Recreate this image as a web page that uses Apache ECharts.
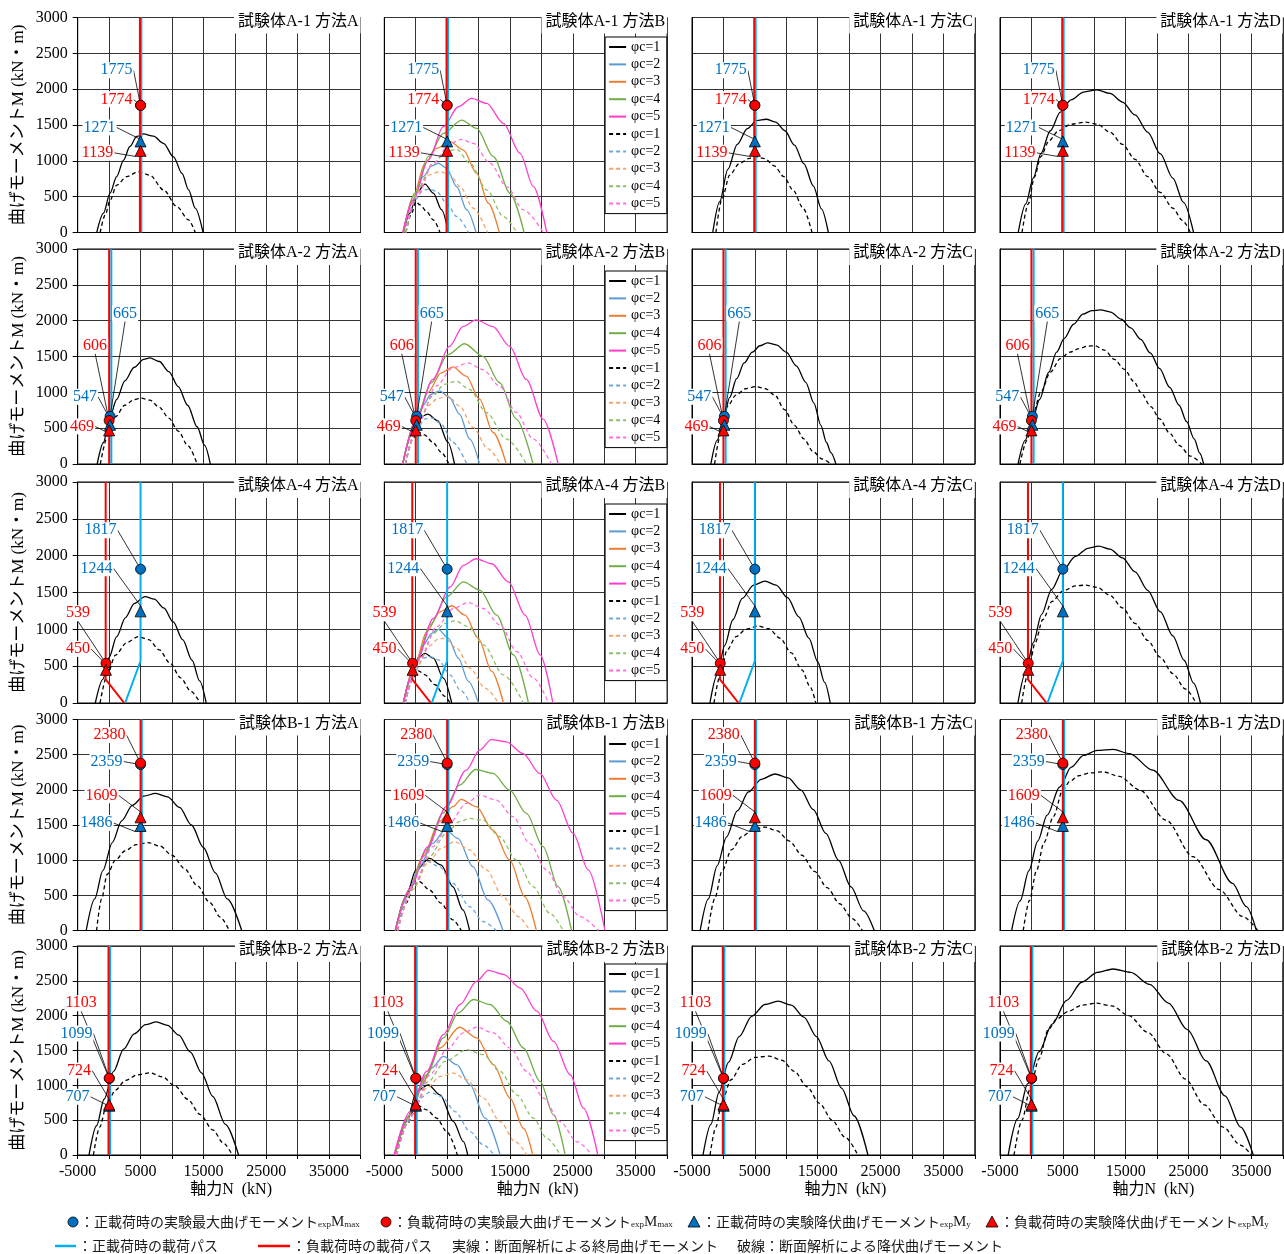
<!DOCTYPE html>
<html>
<head>
<meta charset="utf-8">
<style>
  html, body { margin: 0; background: #fff; }
  #chart { width: 1284px; height: 1254px; }
</style>
</head>
<body>
<div id="chart"></div>
<script src="https://cdn.jsdelivr.net/npm/echarts/dist/echarts.min.js"></script>
<script>
// ---- categories / ticks ----
const specimens = ['A-1', 'A-2', 'A-4', 'B-1', 'B-2'];
const methods = ['A', 'B', 'C', 'D'];
const phiNames = ['φc=1', 'φc=2', 'φc=3', 'φc=4', 'φc=5'];
const xLabels = [-5000, 5000, 15000, 25000, 35000];

// ---- experimental points (per specimen) ----
const expMaxPos = [1775, 665, 1817, 2359, 1099];   // blue circle
const expMaxNeg = [1774, 606, 539, 2380, 1103];    // red circle
const expYldPos = [1271, 547, 1244, 1486, 707];    // blue triangle
const expYldNeg = [1139, 469, 450, 1609, 724];     // red triangle
const expNPos = [5000, 150, 5000, 5000, 50];
const expNNeg = [5000, 0, -500, 5000, 0];

// ---- loading paths ----
const pathPos = [
  [[5130, 0], [5130, 3000]],
  [[350, 0], [350, 3000]],
  [[2550, 0], [5000, 570], [5000, 3000]],
  [[5200, 0], [5200, 3000]],
  [[150, 0], [150, 3000]]
];
const pathNeg = [
  [[4900, 0], [4900, 3000]],
  [[0, 0], [0, 3000]],
  [[2400, 0], [-550, 320], [-550, 3000]],
  [[5000, 0], [5000, 3000]],
  [[-100, 0], [-100, 3000]]
];

// ---- method A ----
const A1_ultA = [[-1970,0],[-900,270],[150,550],[1200,780],[2300,1010],[3300,1200],[4400,1340],[5450,1375],[7050,1345],[8650,1245],[10250,1055],[11600,825],[12650,595],[13700,340],[14950,0]];
const A1_yldA = [[-1430,0],[-600,250],[150,450],[1200,660],[2800,780],[4650,850],[6500,800],[8650,595],[10800,360],[12650,175],[13700,0]];
const A2_ultA = [[-1900,0],[-900,300],[0,620],[1200,900],[2500,1160],[4000,1350],[5500,1460],[6500,1480],[8000,1430],[9500,1290],[11000,1080],[12500,820],[14000,520],[15200,260],[16100,0]];
const A2_yldA = [[-1400,0],[-200,400],[1000,660],[2500,820],[4000,900],[5000,920],[6500,890],[8000,790],[9500,640],[11000,460],[12500,260],[14000,0]];
const A4_ultA = [[-2200,0],[-1000,320],[0,620],[1200,900],[2600,1160],[4000,1350],[5700,1445],[7200,1410],[8700,1290],[10200,1100],[11700,860],[13200,580],[14400,300],[15450,0]];
const A4_yldA = [[-1450,0],[-300,380],[1000,650],[2800,820],[4650,900],[6300,860],[8000,720],[9700,540],[11400,340],[13000,160],[14500,0]];
const B1_ultA = [[-3650,0],[-2300,450],[-1000,850],[500,1250],[2000,1560],[3700,1780],[5500,1910],[7400,1950],[9300,1900],[11200,1750],[13100,1500],[15000,1180],[16900,820],[18800,450],[21100,0]];
const B1_yldA = [[-2000,0],[-1200,450],[-300,800],[1000,1000],[2500,1130],[4300,1220],[6200,1250],[8100,1200],[10000,1070],[12000,880],[14000,640],[16000,400],[17700,190],[19100,0]];
const B2_ultA = [[-3200,0],[-2000,420],[-800,800],[700,1200],[2300,1520],[4000,1740],[5800,1870],[7500,1910],[9300,1860],[11100,1720],[12900,1480],[14700,1180],[16500,840],[18500,440],[20600,0]];
const B2_yldA = [[-2500,0],[-1500,400],[-400,720],[1000,930],[2600,1070],[4500,1150],[6500,1180],[8500,1120],[10500,990],[12500,800],[14500,580],[16500,360],[18200,170],[19600,0]];

// ---- method C ----
const A1_ultC = [[-1700,0],[-600,430],[700,880],[2200,1230],[3800,1450],[5300,1560],[6800,1580],[8300,1540],[9800,1420],[11300,1220],[12800,960],[14300,650],[15600,330],[16700,0]];
const A1_yldC = [[-1200,0],[-200,480],[1000,800],[2500,960],[4000,1030],[5200,1055],[6600,1030],[8100,930],[9600,780],[11100,590],[12600,350],[14100,0]];
const A2_ultC = [[-2000,0],[-1000,330],[0,630],[1000,930],[2100,1190],[3300,1410],[4600,1560],[5800,1650],[7000,1690],[8500,1660],[10000,1560],[11600,1370],[13100,1140],[14400,850],[15500,540],[16400,300],[17100,160],[17900,0]];
const A2_yldC = [[-1400,0],[-500,400],[600,800],[2000,960],[3500,1050],[5200,1080],[6700,1050],[8200,960],[9700,760],[11300,540],[12800,350],[14300,170],[15700,70],[17100,0]];
const A4_ultC = [[-2150,0],[-1000,380],[200,780],[1500,1130],[3000,1420],[4800,1600],[6600,1655],[8400,1600],[10200,1430],[12000,1170],[13600,880],[15000,560],[16100,280],[17000,0]];
const A4_yldC = [[-1500,0],[-500,380],[600,720],[2000,900],[3600,1000],[5500,1045],[7200,1010],[9000,880],[10800,680],[12500,450],[13800,220],[14700,0]];
const B1_ultC = [[-3700,0],[-2400,450],[-1000,920],[500,1330],[2200,1700],[4000,1970],[6000,2150],[8200,2225],[10300,2170],[12300,2000],[14300,1720],[16300,1380],[18300,1000],[20300,620],[22300,280],[24000,0]];
const B1_yldC = [[-2450,0],[-1400,450],[-200,850],[1300,1150],[3000,1340],[4800,1440],[6600,1470],[8500,1420],[10500,1270],[12500,1070],[14500,840],[16500,610],[18500,380],[20500,170],[22100,0]];
const B2_ultC = [[-3250,0],[-2000,440],[-700,900],[800,1330],[2500,1700],[4500,1990],[6600,2160],[8700,2210],[10800,2150],[12800,1980],[14800,1700],[16800,1350],[18800,960],[20800,560],[23000,0]];
const B2_yldC = [[-2130,0],[-1200,400],[-200,780],[1200,1080],[3000,1300],[5000,1400],[7300,1420],[9300,1360],[11300,1200],[13300,980],[15300,740],[17300,500],[19300,260],[21400,0]];

// ---- method D ----
const A1_ultD = [[-2100,0],[-900,400],[300,760],[1500,1100],[3000,1420],[4600,1680],[6300,1850],[8300,1960],[10400,1990],[12500,1940],[14500,1820],[16500,1640],[18500,1400],[20500,1100],[22500,760],[24200,420],[25800,0]];
const A1_yldD = [[-1500,0],[-500,400],[500,780],[1500,1060],[2800,1280],[4300,1420],[6300,1510],[8600,1540],[10500,1510],[12500,1400],[14500,1230],[16500,1020],[18500,780],[20500,560],[22500,340],[24000,170],[25300,0]];
const A2_ultD = [[-2130,0],[-1000,330],[0,560],[1300,900],[2750,1280],[4000,1560],[5200,1750],[6700,1950],[8200,2090],[9600,2140],[11000,2150],[12600,2120],[14300,2020],[15800,1900],[17400,1740],[18900,1550],[20400,1330],[22000,1070],[23500,820],[24700,590],[25900,350],[26800,150],[27400,0]];
const A2_yldD = [[-1830,0],[-700,330],[300,720],[1500,1000],[3000,1280],[4600,1470],[6100,1560],[7600,1610],[9000,1645],[10100,1650],[11600,1590],[13200,1460],[14800,1320],[16300,1150],[17400,1000],[19000,800],[20400,630],[22000,430],[23500,260],[25300,110],[27100,0]];
const A4_ultD = [[-2150,0],[-900,420],[300,820],[1600,1200],[3200,1540],[5000,1800],[7000,1990],[9000,2100],[10700,2130],[12500,2090],[14500,1970],[16500,1780],[18500,1530],[20500,1240],[22500,910],[24300,580],[25800,270],[26900,0]];
const A4_yldD = [[-1550,0],[-500,420],[600,820],[1800,1130],[3300,1380],[5000,1520],[7000,1590],[8600,1600],[10500,1570],[12500,1460],[14500,1290],[16500,1080],[18500,850],[20500,620],[22500,400],[24500,190],[26200,0]];
const B1_ultD = [[-3150,0],[-1800,420],[-400,850],[1000,1270],[2500,1640],[4500,2040],[6300,2320],[8300,2490],[10500,2560],[13000,2575],[15600,2515],[19300,2280],[23500,1850],[27800,1290],[32000,670],[34200,340],[35800,0]];
const B1_yldD = [[-1300,0],[-300,430],[800,850],[2000,1250],[3500,1620],[5000,2000],[6100,2120],[7500,2200],[9300,2240],[11400,2256],[14000,2190],[17200,2000],[21400,1570],[25700,1050],[29900,580],[33600,200],[36000,0]];
const B2_ultD = [[-3700,0],[-2200,520],[-600,1020],[1200,1480],[3300,1880],[5600,2220],[8000,2480],[10500,2620],[13000,2670],[15800,2620],[18800,2450],[21800,2180],[24800,1800],[27800,1350],[30800,850],[33300,400],[35300,0]];
const B2_yldD = [[-2770,0],[-1500,500],[-200,950],[1200,1380],[2700,1800],[4000,1950],[5800,2060],[8000,2150],[10300,2180],[12800,2140],[15500,2000],[18500,1760],[21500,1450],[24500,1090],[27500,720],[30500,400],[33300,140],[35000,0]];

// ---- method B (φc = 1..5) ----
const A1_ultB = [
  [[-1970,0],[-910,270],[150,555],[1480,675],[2800,550],[4130,315],[5190,0]],
  [[-1970,0],[-380,455],[1210,780],[2540,930],[3600,966],[4930,896],[6520,640],[8110,315],[9600,0]],
  [[-1970,0],[-380,500],[1480,966],[3330,1175],[5460,1268],[7580,1150],[9700,826],[11560,410],[13310,0]],
  [[-1970,0],[-110,550],[2000,1060],[4400,1384],[7310,1569],[9700,1453],[12360,1059],[15010,548],[17240,0]],
  [[-2080,0],[-380,455],[2000,1012],[4400,1476],[6780,1755],[8900,1871],[11300,1801],[13950,1523],[16600,1105],[18730,641],[20850,0]]
];
const A1_yldB = [
  [[-1550,0],[-650,270],[40,432],[680,385],[1740,292],[2800,176],[3860,0]],
  [[-1700,0],[-110,455],[1210,594],[2270,604],[3330,571],[4930,409],[6520,223],[8380,0]],
  [[-1550,0],[150,548],[1740,794],[3860,850],[5460,803],[7050,641],[9170,339],[11400,0]],
  [[-1550,0],[590,641],[2710,966],[4930,1128],[6520,1161],[8640,966],[11300,594],[13950,223],[16070,0]],
  [[-1700,0],[150,501],[2800,966],[5460,1244],[7310,1300],[9170,1244],[11830,966],[14480,641],[17130,316],[20320,0]]
];
const A2_ultB = [
  [[-2070,0],[-740,396],[590,650],[1920,696],[3510,604],[5110,304],[6170,0]],
  [[-2070,0],[-480,470],[1120,811],[2450,973],[3780,1019],[5370,927],[6970,696],[8570,350],[10160,0]],
  [[-2070,0],[-210,512],[1920,996],[4040,1272],[5900,1355],[8030,1226],[10160,904],[12290,443],[14420,0]],
  [[-2070,0],[50,627],[2450,1134],[5110,1526],[7770,1678],[10690,1503],[13350,1134],[16010,627],[18670,0]],
  [[-2070,0],[50,604],[2710,1180],[5370,1641],[7500,1918],[9630,2010],[12290,1918],[14950,1641],[17610,1180],[20270,627],[22660,0]]
];
const A2_yldB = [
  [[-1650,0],[-480,350],[320,452],[1380,406],[2710,304],[4040,166],[5270,0]],
  [[-1650,0],[54,443],[1380,627],[2710,641],[4040,558],[5900,304],[8140,0]],
  [[-1650,0],[320,535],[1920,811],[3510,913],[5110,950],[6970,811],[9100,512],[11490,212],[13460,0]],
  [[-1650,0],[590,627],[2710,950],[4580,1111],[6440,1157],[8570,1042],[11230,719],[14420,350],[17610,0]],
  [[-1650,0],[590,604],[3250,1088],[5900,1341],[8300,1410],[10690,1318],[13350,1088],[16010,719],[18670,350],[21600,0]]
];
const A4_ultB = [
  [[-1970,0],[-650,383],[420,617],[1480,675],[2810,608],[4400,338],[5730,0]],
  [[-1970,0],[-380,428],[1210,788],[2540,945],[3600,1000],[5200,878],[6790,608],[8380,293],[9970,0]],
  [[-1970,0],[-110,518],[1740,968],[3870,1238],[5730,1320],[7850,1193],[9970,878],[12100,428],[13960,0]],
  [[-1970,0],[150,563],[2270,1058],[4930,1440],[7580,1643],[10240,1530],[12890,1193],[15550,653],[17940,0]],
  [[-1970,0],[150,563],[2800,1148],[5460,1575],[7580,1868],[9600,1958],[12100,1890],[14750,1643],[17410,1193],[19800,653],[21820,0]]
];
const A4_yldB = [
  [[-1700,0],[-380,338],[420,437],[1480,383],[3070,248],[4660,90],[5460,0]],
  [[-1700,0],[-110,428],[1210,608],[2270,630],[3600,585],[5460,383],[7050,180],[8650,0]],
  [[-1700,0],[420,518],[2010,765],[3600,869],[4660,878],[6520,743],[8650,473],[11040,203],[13160,0]],
  [[-1700,0],[680,585],[2800,945],[4660,1080],[6260,1116],[8380,1035],[10770,788],[13960,383],[17140,0]],
  [[-1700,0],[680,585],[3340,1035],[6000,1283],[8380,1364],[10770,1283],[13430,1058],[16080,698],[18740,338],[21130,0]]
];
const B1_ultB = [
  [[-3240,0],[-1540,482],[54,861],[2180,1026],[4040,932],[5900,624],[7500,293],[8570,0]],
  [[-3240,0],[-1540,459],[590,908],[2710,1239],[4740,1438],[6700,1310],[9100,908],[11490,435],[13890,0]],
  [[-3240,0],[-1280,530],[1120,1050],[3780,1547],[5900,1760],[7240,1864],[9630,1760],[12290,1428],[14950,1003],[17340,482],[19200,0]],
  [[-3240,0],[-1010,577],[1650,1145],[4310,1665],[6970,2067],[9520,2289],[12290,2233],[14950,1996],[17610,1665],[20270,1192],[22660,624],[24790,0]],
  [[-3240,0],[-750,624],[1920,1192],[4840,1760],[8030,2280],[10160,2564],[12020,2715],[14420,2682],[17080,2516],[19740,2233],[22400,1854],[25060,1381],[27450,861],[30110,0]]
];
const B1_yldB = [
  [[-2870,0],[-1540,388],[-210,672],[590,695],[2180,577],[4040,388],[5900,151],[7240,0]],
  [[-2870,0],[-1280,482],[320,861],[1920,979],[3780,908],[5900,672],[8570,340],[10690,128],[12820,0]],
  [[-2870,0],[-480,577],[1920,955],[4040,1168],[6170,1263],[8570,1145],[11230,861],[13890,482],[16280,199],[18140,0]],
  [[-2870,0],[-480,600],[2180,1050],[4840,1381],[6970,1547],[8570,1594],[10690,1570],[13350,1334],[16010,1003],[18670,624],[21330,246],[23460,0]],
  [[-2870,0],[-210,672],[2710,1192],[5370,1523],[8030,1807],[10160,1925],[12820,1854],[15480,1618],[18140,1239],[20800,861],[23460,482],[26120,199],[29050,0]]
];
const B2_ultB = [
  [[-3300,0],[-1440,480],[150,912],[2010,1008],[3870,864],[6000,480],[7590,192],[8280,0]],
  [[-3300,0],[-1440,528],[680,960],[2540,1248],[4400,1416],[6520,1296],[8650,1008],[11040,528],[13430,0]],
  [[-3300,0],[-1170,552],[1210,1056],[3870,1536],[6950,1834],[9710,1680],[12360,1296],[15020,816],[17140,384],[18630,0]],
  [[-3300,0],[-910,576],[1740,1152],[4400,1680],[6790,2040],[9180,2232],[11830,2160],[14490,1920],[17140,1536],[19800,1056],[21920,576],[23780,0]],
  [[-3460,0],[-910,624],[1740,1200],[4400,1728],[7050,2160],[9710,2496],[11570,2650],[13960,2592],[16610,2400],[19270,2064],[21920,1632],[24580,1152],[26700,672],[28980,0]]
];
const B2_yldB = [
  [[-3030,0],[-1440,432],[150,720],[1740,648],[3340,528],[4930,336],[6630,0]],
  [[-3030,0],[-1170,480],[680,816],[2270,902],[4130,840],[6260,624],[8650,336],[10770,144],[12470,0]],
  [[-3030,0],[-650,576],[1740,960],[3870,1128],[6000,1176],[8120,1080],[10770,816],[13430,480],[15820,192],[17670,0]],
  [[-3030,0],[-650,576],[2010,1056],[4660,1344],[8120,1512],[10770,1440],[13430,1200],[16080,864],[18740,528],[20860,240],[22980,0]],
  [[-3140,0],[-650,576],[2270,1152],[4930,1512],[7580,1752],[9710,1834],[12360,1752],[15020,1536],[17670,1200],[20330,816],[22980,480],[25640,192],[28030,0]]
];

const ultimate = [
  {A: A1_ultA, B: A1_ultB, C: A1_ultC, D: A1_ultD},
  {A: A2_ultA, B: A2_ultB, C: A2_ultC, D: A2_ultD},
  {A: A4_ultA, B: A4_ultB, C: A4_ultC, D: A4_ultD},
  {A: B1_ultA, B: B1_ultB, C: B1_ultC, D: B1_ultD},
  {A: B2_ultA, B: B2_ultB, C: B2_ultC, D: B2_ultD}
];
const yielding = [
  {A: A1_yldA, B: A1_yldB, C: A1_yldC, D: A1_yldD},
  {A: A2_yldA, B: A2_yldB, C: A2_yldC, D: A2_yldD},
  {A: A4_yldA, B: A4_yldB, C: A4_yldC, D: A4_yldD},
  {A: B1_yldA, B: B1_yldB, C: B1_yldC, D: B1_yldD},
  {A: B2_yldA, B: B2_yldB, C: B2_yldC, D: B2_yldD}
];

// ---- layout & style ----
const colLeft = [77.7, 384.3, 692, 1000];
const colW = 282.8;
const rowTop = [17.5, 249, 482, 719.5, 946];
const rowH = [215, 215, 221, 211, 209];
const legendTop = [37, 271, 504, 734, 964];
// label offsets [dx, dy] : blue circle, red circle, blue triangle, red triangle
const labelShift = [
  [[-24, -35], [-24, -6], [-41, -14], [-43, 2]],
  [[15, -103], [-14, -75], [-25, -28], [-27, -4]],
  [[-40, -39], [-28, -50], [-44, -43], [-28, -21]],
  [[-34, -3], [-31, -28], [-44, -3], [-39, -22]],
  [[-33, -45], [-28, -75], [-32, -9], [-30, -34]]
];
const solidColors = ['#000000', '#5B9BD5', '#ED7D31', '#70AD47', '#FF3CCF'];
const dashColors = ['#000000', '#6FA8DC', '#F4A46A', '#8CC063', '#FF70DD'];
const BLUE = '#0070C0', RED = '#FF0000', PATH_BLUE = '#00B0F0';
const FONT_SERIF = "'Liberation Serif', 'Noto Sans CJK JP', serif";
const FONT_JP = "'Noto Sans CJK JP', sans-serif";
const GRID_COLOR = '#333';

const grids = [], xAxes = [], yAxes = [], titles = [], legends = [], series = [];

function curve(name, data, g, color, dashed) {
  return {
    type: 'line', name: name, xAxisIndex: g, yAxisIndex: g, data: data,
    symbol: 'none', smooth: 0.3, smoothMonotone: 'x', silent: true, z: 2,
    lineStyle: {color: color, width: 1.3, type: dashed ? [4, 3] : 'solid'},
    itemStyle: {color: color}
  };
}

function marker(g, N, M, symbol, fill, txtColor, shift) {
  return {
    type: 'scatter', xAxisIndex: g, yAxisIndex: g, data: [[N, M]],
    symbol: symbol, symbolSize: symbol === 'circle' ? 10 : 11, z: 6, silent: true,
    itemStyle: {color: fill, borderColor: '#000', borderWidth: 0.8, opacity: 1},
    label: {
      show: true, position: 'inside', formatter: p => String(p.value[1]),
      color: txtColor, fontSize: 16, fontFamily: FONT_SERIF,
      backgroundColor: '#fff', padding: [0, 1]
    },
    labelLayout: {dx: shift[0], dy: shift[1]},
    labelLine: {show: true, lineStyle: {color: '#000', width: 0.8}}
  };
}

specimens.forEach((sp, r) => {
  methods.forEach((m, c) => {
    const g = r * 4 + c;
    grids.push({
      left: colLeft[c], top: rowTop[r], width: colW, height: rowH[r],
      show: true, borderColor: '#000', borderWidth: 1, backgroundColor: 'transparent',
      outerBoundsMode: 'none', containLabel: false
    });
    xAxes.push({
      gridIndex: g, type: 'value', min: -5000, max: 40000, interval: 5000,
      axisLine: {show: true, onZero: false, lineStyle: {color: '#000', width: 1}},
      axisTick: {show: r === 4, length: 4, lineStyle: {color: '#000'}},
      axisLabel: {
        show: r === 4, margin: 9, fontSize: 16, fontFamily: FONT_SERIF, color: '#000',
        formatter: v => (xLabels.indexOf(v) >= 0 ? String(v) : '')
      },
      splitLine: {show: true, lineStyle: {color: GRID_COLOR, width: 1}},
      name: r === 4 ? '軸力N  (kN)' : '', nameLocation: 'middle', nameGap: 27,
      nameTextStyle: {fontSize: 16, fontFamily: FONT_SERIF, color: '#000', padding: [0, 0, 0, 24]}
    });
    yAxes.push({
      gridIndex: g, type: 'value', min: 0, max: 3000, interval: 500,
      axisLine: {show: true, onZero: false, lineStyle: {color: '#000', width: 1}},
      axisTick: {show: c === 0, length: 5, lineStyle: {color: '#000'}},
      axisLabel: {show: c === 0, margin: 10, fontSize: 16, fontFamily: FONT_SERIF, color: '#000',
        formatter: v => String(v)},
      splitLine: {show: true, lineStyle: {color: GRID_COLOR, width: 1}},
      name: c === 0 ? '曲げモーメントM (kN・m)' : '', nameLocation: 'middle', nameRotate: 90, nameGap: 51,
      nameTextStyle: {fontSize: 17, fontFamily: FONT_SERIF, color: '#000'}
    });
    titles.push({
      text: '試験体' + sp + ' 方法' + m,
      right: 1284 - (colLeft[c] + colW), top: rowTop[r] - 7,
      backgroundColor: '#fff', padding: [3, 2, 4, 4],
      textStyle: {fontSize: 16, fontWeight: 'normal', fontFamily: FONT_SERIF, color: '#000'}
    });

    // analysis curves
    if (m === 'B') {
      ultimate[r].B.forEach((d, k) => series.push(curve(phiNames[k], d, g, solidColors[k], false)));
      yielding[r].B.forEach((d, k) => series.push(curve(phiNames[k] + ' ', d, g, dashColors[k], true)));
      legends.push({
        orient: 'vertical', left: colLeft[c] + colW - 62, top: legendTop[r],
        data: phiNames.concat(phiNames.map(n => n + ' ')),
        backgroundColor: '#fff', borderColor: '#000', borderWidth: 1,
        padding: [3, 3, 3, 3], itemWidth: 17, itemHeight: 12, itemGap: 3.4,
        selectedMode: false,
        itemStyle: {color: 'transparent', borderColor: 'transparent', borderWidth: 0},
        textStyle: {fontSize: 14, fontFamily: FONT_SERIF, color: '#000'}
      });
    } else {
      series.push(curve(sp + m + '終局', ultimate[r][m], g, '#000', false));
      series.push(curve(sp + m + '降伏', yielding[r][m], g, '#000', true));
    }

    // loading paths
    series.push({
      type: 'line', xAxisIndex: g, yAxisIndex: g, data: pathPos[r], symbol: 'none', silent: true, z: 3,
      lineStyle: {color: PATH_BLUE, width: 2}
    });
    series.push({
      type: 'line', xAxisIndex: g, yAxisIndex: g, data: pathNeg[r], symbol: 'none', silent: true, z: 3,
      lineStyle: {color: RED, width: 2}
    });

    // experimental points
    const sh = labelShift[r];
    series.push(marker(g, expNPos[r], expMaxPos[r], 'circle', BLUE, BLUE, sh[0]));
    series.push(marker(g, expNNeg[r], expMaxNeg[r], 'circle', RED, RED, sh[1]));
    series.push(marker(g, expNPos[r], expYldPos[r], 'triangle', BLUE, BLUE, sh[2]));
    series.push(marker(g, expNNeg[r], expYldNeg[r], 'triangle', RED, RED, sh[3]));
  });
});

// ---- caption at the bottom ----
const capRich = {
  t: {fontSize: 14, fontFamily: FONT_JP, fill: '#1a1a1a'},
  m: {fontSize: 15, fontFamily: 'Liberation Serif', fill: '#1a1a1a'},
  s: {fontSize: 9, fontFamily: 'Liberation Serif', fill: '#1a1a1a', verticalAlign: 'bottom'}
};
function capText(x, y, text) {
  return {type: 'text', x: x, y: y, z: 100, style: {text: text, rich: capRich, verticalAlign: 'middle', fill: '#1a1a1a', font: '14px ' + FONT_JP}};
}
function tri(cx, cy, fill) {
  return {type: 'polygon', z: 100, shape: {points: [[cx, cy - 6], [cx + 6, cy + 5], [cx - 6, cy + 5]]}, style: {fill: fill, stroke: '#000', lineWidth: 0.8}};
}
const y1 = 1222, y2 = 1246;
const graphic = [
  {type: 'circle', z: 100, shape: {cx: 73, cy: y1, r: 5}, style: {fill: BLUE, stroke: '#000', lineWidth: 0.8}},
  capText(80, y1, '{t|：正載荷時の実験最大曲げモーメント}{s|exp}{m|M}{s|max}'),
  {type: 'circle', z: 100, shape: {cx: 386, cy: y1, r: 5}, style: {fill: RED, stroke: '#000', lineWidth: 0.8}},
  capText(393, y1, '{t|：負載荷時の実験最大曲げモーメント}{s|exp}{m|M}{s|max}'),
  tri(694, y1, BLUE),
  capText(702, y1, '{t|：正載荷時の実験降伏曲げモーメント}{s|exp}{m|M}{s|y}'),
  tri(992, y1, RED),
  capText(1000, y1, '{t|：負載荷時の実験降伏曲げモーメント}{s|exp}{m|M}{s|y}'),
  {type: 'line', z: 100, shape: {x1: 55, y1: y2, x2: 76, y2: y2}, style: {stroke: PATH_BLUE, lineWidth: 2.5}},
  capText(78, y2, '{t|：正載荷時の載荷パス}'),
  {type: 'line', z: 100, shape: {x1: 258, y1: y2, x2: 290, y2: y2}, style: {stroke: RED, lineWidth: 2.5}},
  capText(292, y2, '{t|：負載荷時の載荷パス}'),
  capText(452, y2, '{t|実線：断面解析による終局曲げモーメント}'),
  capText(737, y2, '{t|破線：断面解析による降伏曲げモーメント}')
];

const chart = echarts.init(document.getElementById('chart'));
chart.setOption({
  animation: false,
  backgroundColor: '#fff',
  title: titles,
  legend: legends,
  grid: grids,
  xAxis: xAxes,
  yAxis: yAxes,
  series: series,
  graphic: graphic
});
</script>
</body>
</html>
